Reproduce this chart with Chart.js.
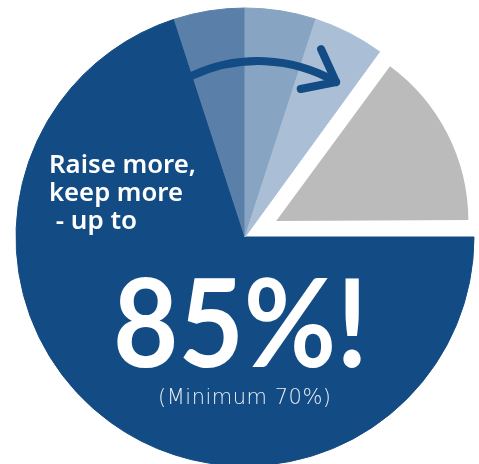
<!DOCTYPE html>
<html>
<head>
<meta charset="utf-8">
<script src="https://cdn.jsdelivr.net/npm/chart.js@4"></script>
<style>
  html, body { margin: 0; padding: 0; background: #ffffff; }
  #wrap { width: 479px; height: 464px; }
</style>
</head>
<body>
<div id="wrap"><canvas id="myChart"></canvas></div>
<script>
// slices clockwise from 3 o'clock
const segments = ["Kept (minimum)", "Step 1", "Step 2", "Step 3", "Rest"];
const shares = [70, 5, 5, 5, 15];
const colors = ["#134b84", "#5a80aa", "#87a4c3", "#aabfd6", "#bbbbbb"];
const offsets = [0, 0, 0, 0, 140]; // chart.js draws offset / 4
const headline = ["Raise more,", "keep more", " - up to"];
const bigText = "85%!";
const subText = "(Minimum 70%)";

// the grey slice is drawn smaller than the blue ones
const shrinkSlice = {
    id: "shrinkSlice",
    afterDatasetsUpdate(chart) {
        const arc = chart.getDatasetMeta(0).data[4];
        arc.outerRadius = arc.outerRadius * 0.81;
    }
};

const overlay = {
    id: "overlay",
    afterDatasetsDraw(chart) {
        const ctx = chart.ctx;
        const arc0 = chart.getDatasetMeta(0).data[0];
        const cx = arc0.x, cy = arc0.y, R = arc0.outerRadius;

        // curved arrow
        const ax = cx + 0.057 * R, ay = cy - 0.087 * R, ar = 0.681 * R;
        const a0 = -115 * Math.PI / 180, a1 = -60 * Math.PI / 180;
        ctx.save();
        ctx.strokeStyle = "#134b84";
        ctx.lineWidth = 8;
        ctx.lineCap = "round";
        ctx.lineJoin = "round";
        ctx.beginPath();
        ctx.arc(ax, ay, ar, a0, a1);
        ctx.stroke();
        const tx = ax + ar * Math.cos(a1), ty = ay + ar * Math.sin(a1);
        const back = a1 + Math.PI / 2 + Math.PI;
        ctx.beginPath();
        [back + 0.62, back - 0.72].forEach(a => {
            ctx.moveTo(tx + 36 * Math.cos(a), ty + 36 * Math.sin(a));
            ctx.lineTo(tx, ty);
        });
        ctx.stroke();

        // texts
        ctx.fillStyle = "#ffffff";
        ctx.textAlign = "left";
        ctx.textBaseline = "alphabetic";
        ctx.font = "600 26px 'Noto Sans'";
        const widths = [147, 134, 120];
        headline.forEach((t, i) => {
            ctx.fillText(t, cx - 196, cy - 64 + i * 28, widths[i]);
        });
        ctx.font = "700 122px Lato";
        ctx.fillText(bigText, cx - 132, cy + 130, 255);
        ctx.fillStyle = "#e8edf3";
        ctx.font = "200 21px 'DejaVu Sans'";
        ctx.letterSpacing = "0.5px";
        ctx.fillText(subText, cx - 87, cy + 167, 175);
        ctx.restore();
    }
};

window.onload = () => {
    const ctx = document.getElementById("myChart").getContext("2d");
    new Chart(ctx, {
        type: "pie",
        data: {
            labels: segments,
            datasets: [{
                data: shares,
                backgroundColor: colors,
                borderColor: colors,
                borderWidth: [1, 1, 1, 1, 0],
                offset: offsets
            }]
        },
        options: {
            responsive: true,
            maintainAspectRatio: false,
            animation: false,
            events: [],
            rotation: 90,
            radius: 229,
            layout: { padding: { left: 11, top: 10, right: 0, bottom: 0 } },
            plugins: {
                legend: { display: false },
                tooltip: { enabled: false }
            }
        },
        plugins: [shrinkSlice, overlay]
    });
};
</script>
</body>
</html>
